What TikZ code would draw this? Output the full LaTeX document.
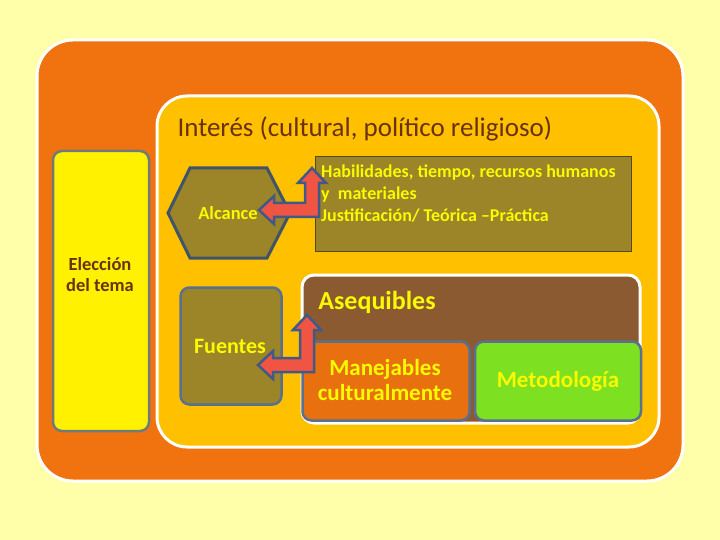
\documentclass[tikz,border=0pt]{standalone}
\usepackage{fontspec}
\setmainfont{Carlito}
\usetikzlibrary{positioning}
\usetikzlibrary{math}
\usetikzlibrary{calc}

\definecolor{paper}{RGB}{255,255,170}
\definecolor{outerorange}{RGB}{240,115,15}
\definecolor{innergold}{RGB}{255,192,0}
\definecolor{colyellow}{RGB}{255,241,0}
\definecolor{colgrey}{RGB}{112,122,122}
\definecolor{darkbrown}{RGB}{105,50,12}
\definecolor{olive}{RGB}{156,132,40}
\definecolor{olivedark}{RGB}{88,72,24}
\definecolor{slate}{RGB}{63,84,105}
\definecolor{bluegrey}{RGB}{90,112,144}
\definecolor{txtyellow}{RGB}{250,250,0}
\definecolor{arrowred}{RGB}{240,85,68}
\definecolor{arrowblue}{RGB}{63,90,136}
\definecolor{earth}{RGB}{140,90,48}
\definecolor{manorange}{RGB}{232,112,14}
\definecolor{limegreen}{RGB}{125,224,32}

\tikzset{
  panel/.style={fill=#1, draw=white, line width=3pt},
  card/.style={fill=#1, draw=bluegrey, line width=2.5pt, rounded corners=9pt, inner sep=0pt},
  yelltext/.style={text=txtyellow, font=\bfseries\fontsize{#1}{#1}\selectfont},
  bendarrow/.style={fill=arrowred, draw=arrowblue, line width=2.5pt, line join=miter},
}

\begin{document}
\begin{tikzpicture}[x=1pt,y=-1pt]

  \tikzmath{
    \sw = 7;   % half thickness of arrow shaft
    \hw = 14;  % half width of arrow head
    \hl = 15;  % length of arrow head
  }

  % page
  \useasboundingbox[fill=paper] (0,0) rectangle (720,540);

  % big frames
  \draw[panel=outerorange, rounded corners=36pt] (37,40) rectangle (683,481);
  \draw[panel=innergold, rounded corners=30pt] (157,96) rectangle (659,447);

  \node[text=darkbrown, font=\fontsize{27}{30}\selectfont, anchor=west] (titulo) at (174,129)
    {Interés (cultural, político religioso)};

  % left column
  \node[card=colyellow, draw=colgrey, minimum width=96pt, minimum height=280pt] (eleccion) at (101,291) {};
  \node[text=darkbrown, font=\bfseries\fontsize{18.5}{21}\selectfont, align=center] (eleccionlbl) at (100,275)
    {Elección\\del tema};

  % hexagon Alcance
  \draw[fill=olive, draw=slate, line width=3pt, line join=miter]
    (190,168) -- (267,168) -- (290,213) -- (267,258) -- (190,258) -- (168,213) -- cycle;
  \node[yelltext=18.5] (alcance) at (228,213) {Alcance};

  % text box
  \node[fill=olive, draw=olivedark, line width=1pt, minimum width=316pt, minimum height=94pt] (habil) at (473,204) {};
  \node[text=txtyellow, font=\bfseries\fontsize{18}{22}\selectfont, align=left, anchor=base west, inner sep=0pt] (habiltxt) at (321,222)
    {Habilidades, tiempo, recursos humanos\\y\ \ materiales\\Justificación/ Teórica –Práctica};

  % Fuentes
  \node[card=olive, minimum width=101pt, minimum height=117pt] (fuentes) at (231,346) {};
  \node[yelltext=22] (fuenteslbl) at (230,346) {Fuentes};

  % Asequibles block
  \draw[panel=earth, rounded corners=12pt] (302,275) rectangle (640,423);
  \node[yelltext=26] (aseq) at (377,302) {Asequibles};

  \node[card=manorange, minimum width=167pt, minimum height=79pt] (manej) at (386,381) {};
  \node[yelltext=23, align=center] (manejlbl) at (385,380)
    {Manejables\\[2pt]culturalmente};

  \node[card=limegreen, minimum width=166pt, minimum height=79pt] (metodo) at (558,381) {};
  \node[yelltext=23] (metodolbl) at (558,381) {Metodología};

  % bent arrow from Alcance to text box
  \draw[bendarrow]
    (259,210) -- ({259+\hl},{210-\hw}) -- ({259+\hl},{210-\sw}) -- ({312-\sw},{210-\sw})
    -- ({312-\sw},{168+\hl}) -- ({312-\hw},{168+\hl}) -- (312,168) -- ({312+\hw},{168+\hl})
    -- ({312+\sw},{168+\hl}) -- ({312+\sw},{210+\sw}) -- ({259+\hl},{210+\sw})
    -- ({259+\hl},{210+\hw}) -- cycle;

  % bent arrow from Fuentes to Asequibles
  \draw[bendarrow]
    (258,365) -- ({258+\hl},{365-\hw}) -- ({258+\hl},{365-\sw}) -- ({307-\sw},{365-\sw})
    -- ({307-\sw},{315+\hl}) -- ({307-\hw},{315+\hl}) -- (307,315) -- ({307+\hw},{315+\hl})
    -- ({307+\sw},{315+\hl}) -- ({307+\sw},{365+\sw}) -- ({258+\hl},{365+\sw})
    -- ({258+\hl},{365+\hw}) -- cycle;

\end{tikzpicture}
\end{document}
